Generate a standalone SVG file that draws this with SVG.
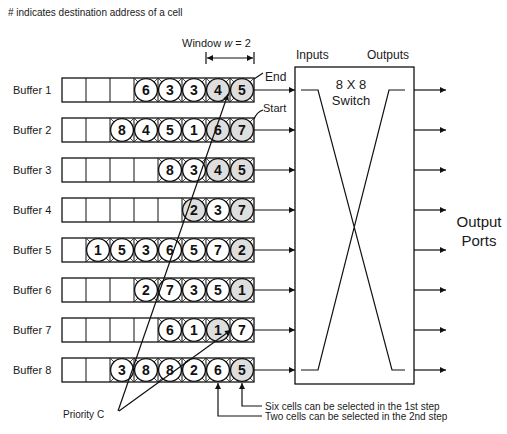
<svg xmlns="http://www.w3.org/2000/svg" xmlns:xlink="http://www.w3.org/1999/xlink" width="507" height="434" viewBox="0 0 507 434">
<style>
text{font-family:"Liberation Sans",Arial,sans-serif;fill:#1a1a1a}
.lbl{font-size:11px}
.dg{font-size:14px;font-weight:bold;text-anchor:middle;fill:#111}
.box{fill:none;stroke:#111;stroke-width:1.3}
.div{stroke:#111;stroke-width:1}
.diag{stroke:#222;stroke-width:0.8;fill:none}
.cw{fill:#fff;stroke:#111;stroke-width:1.3}
.cg{fill:#dedede;stroke:#111;stroke-width:1.3}
.ln{stroke:#111;stroke-width:1.2;fill:none}
</style>
<defs>
<marker id="ah" viewBox="0 0 10 10" refX="10" refY="5" markerWidth="8" markerHeight="6" orient="auto-start-reverse" markerUnits="userSpaceOnUse"><path d="M0 0L10 5L0 10z" fill="#111"/></marker>
<g id="cw"><path class="diag" d="M0 0L24 24M24 0L0 24"/><circle class="cw" cx="12" cy="12" r="11.4"/></g>
<g id="cg"><path class="diag" d="M0 0L24 24M24 0L0 24"/><circle class="cg" cx="12" cy="12" r="11.4"/></g>
<g id="buf"><rect class="box" x="62" y="0" width="192" height="24"/><path class="div" d="M86 0V24M110 0V24M134 0V24M158 0V24M182 0V24M206 0V24M230 0V24"/></g>
</defs>

<text x="8" y="16" style="font-size:10px"># indicates destination address of a cell</text>

<g id="window">
<text x="182" y="47" class="lbl">Window <tspan font-style="italic">w</tspan> = 2</text>
<path class="ln" d="M206 52V64M254 52V64"/>
<path class="ln" d="M207 58H253" marker-start="url(#ah)" marker-end="url(#ah)"/>
</g>

<g id="buffer1">
<text x="13" y="94" class="lbl">Buffer 1</text>
<use xlink:href="#buf" y="78"/>
<use xlink:href="#cw" x="134" y="78"/><use xlink:href="#cw" x="158" y="78"/><use xlink:href="#cw" x="182" y="78"/><use xlink:href="#cg" x="206" y="78"/><use xlink:href="#cg" x="230" y="78"/>
<text class="dg" x="146" y="95">6</text><text class="dg" x="170" y="95">3</text><text class="dg" x="194" y="95">3</text><text class="dg" x="218" y="95">4</text><text class="dg" x="242" y="95">5</text>
</g>

<g id="buffer2">
<text x="13" y="134" class="lbl">Buffer 2</text>
<use xlink:href="#buf" y="118"/>
<use xlink:href="#cw" x="110" y="118"/><use xlink:href="#cw" x="134" y="118"/><use xlink:href="#cw" x="158" y="118"/><use xlink:href="#cw" x="182" y="118"/><use xlink:href="#cg" x="206" y="118"/><use xlink:href="#cg" x="230" y="118"/>
<text class="dg" x="122" y="135">8</text><text class="dg" x="146" y="135">4</text><text class="dg" x="170" y="135">5</text><text class="dg" x="194" y="135">1</text><text class="dg" x="218" y="135">6</text><text class="dg" x="242" y="135">7</text>
</g>

<g id="buffer3">
<text x="13" y="174" class="lbl">Buffer 3</text>
<use xlink:href="#buf" y="158"/>
<use xlink:href="#cw" x="158" y="158"/><use xlink:href="#cw" x="182" y="158"/><use xlink:href="#cg" x="206" y="158"/><use xlink:href="#cg" x="230" y="158"/>
<text class="dg" x="170" y="175">8</text><text class="dg" x="194" y="175">3</text><text class="dg" x="218" y="175">4</text><text class="dg" x="242" y="175">5</text>
</g>

<g id="buffer4">
<text x="13" y="214" class="lbl">Buffer 4</text>
<use xlink:href="#buf" y="198"/>
<use xlink:href="#cg" x="182" y="198"/><use xlink:href="#cw" x="206" y="198"/><use xlink:href="#cg" x="230" y="198"/>
<text class="dg" x="194" y="215">2</text><text class="dg" x="218" y="215">3</text><text class="dg" x="242" y="215">7</text>
</g>

<g id="buffer5">
<text x="13" y="254" class="lbl">Buffer 5</text>
<use xlink:href="#buf" y="238"/>
<use xlink:href="#cw" x="86" y="238"/><use xlink:href="#cw" x="110" y="238"/><use xlink:href="#cw" x="134" y="238"/><use xlink:href="#cw" x="158" y="238"/><use xlink:href="#cw" x="182" y="238"/><use xlink:href="#cw" x="206" y="238"/><use xlink:href="#cg" x="230" y="238"/>
<text class="dg" x="98" y="255">1</text><text class="dg" x="122" y="255">5</text><text class="dg" x="146" y="255">3</text><text class="dg" x="170" y="255">6</text><text class="dg" x="194" y="255">5</text><text class="dg" x="218" y="255">7</text><text class="dg" x="242" y="255">2</text>
</g>

<g id="buffer6">
<text x="13" y="294" class="lbl">Buffer 6</text>
<use xlink:href="#buf" y="278"/>
<use xlink:href="#cw" x="134" y="278"/><use xlink:href="#cw" x="158" y="278"/><use xlink:href="#cw" x="182" y="278"/><use xlink:href="#cw" x="206" y="278"/><use xlink:href="#cg" x="230" y="278"/>
<text class="dg" x="146" y="295">2</text><text class="dg" x="170" y="295">7</text><text class="dg" x="194" y="295">3</text><text class="dg" x="218" y="295">5</text><text class="dg" x="242" y="295">1</text>
</g>

<g id="buffer7">
<text x="13" y="334" class="lbl">Buffer 7</text>
<use xlink:href="#buf" y="318"/>
<use xlink:href="#cw" x="158" y="318"/><use xlink:href="#cw" x="182" y="318"/><use xlink:href="#cg" x="206" y="318"/><use xlink:href="#cw" x="230" y="318"/>
<text class="dg" x="170" y="335">6</text><text class="dg" x="194" y="335">1</text><text class="dg" x="218" y="335">1</text><text class="dg" x="242" y="335">7</text>
</g>

<g id="buffer8">
<text x="13" y="374" class="lbl">Buffer 8</text>
<use xlink:href="#buf" y="358"/>
<use xlink:href="#cw" x="110" y="358"/><use xlink:href="#cw" x="134" y="358"/><use xlink:href="#cw" x="158" y="358"/><use xlink:href="#cw" x="182" y="358"/><use xlink:href="#cw" x="206" y="358"/><use xlink:href="#cg" x="230" y="358"/>
<text class="dg" x="122" y="375">3</text><text class="dg" x="146" y="375">8</text><text class="dg" x="170" y="375">8</text><text class="dg" x="194" y="375">2</text><text class="dg" x="218" y="375">6</text><text class="dg" x="242" y="375">5</text>
</g>

<g id="switch">
<rect class="box" x="295" y="67" width="119" height="317"/>
<text x="296" y="59" style="font-size:12px">Inputs</text>
<text x="367" y="59" style="font-size:12px">Outputs</text>
<text x="351" y="89" style="font-size:13px;text-anchor:middle">8 X 8</text>
<text x="351" y="105" style="font-size:13px;text-anchor:middle">Switch</text>
<path class="ln" d="M301 90H318L392 370H405M405 90H389L318 370H301"/>
</g>

<g id="output-ports">
<text x="479" y="227" style="font-size:15px;text-anchor:middle">Output</text>
<text x="479" y="246" style="font-size:15px;text-anchor:middle">Ports</text>
</g>

<g id="labels">
<text x="265" y="81" style="font-size:12px">End</text>
<text x="263" y="112" style="font-size:11px">Start</text>
<text x="63" y="418" style="font-size:10px">Priority C</text>
<text x="265" y="410" style="font-size:10px">Six cells can be selected in the 1st step</text>
<text x="265" y="420" style="font-size:10px">Two cells can be selected in the 2nd step</text>
</g>

<g id="connectors">
<path class="ln" d="M254 79L263 73"/>
<path class="ln" d="M254 119Q257 112 263 110"/>
<path class="ln" d="M254 90H295" marker-end="url(#ah)"/>
<path class="ln" d="M254 130H295" marker-end="url(#ah)"/>
<path class="ln" d="M254 170H295" marker-end="url(#ah)"/>
<path class="ln" d="M254 210H295" marker-end="url(#ah)"/>
<path class="ln" d="M254 250H295" marker-end="url(#ah)"/>
<path class="ln" d="M254 290H295" marker-end="url(#ah)"/>
<path class="ln" d="M254 330H295" marker-end="url(#ah)"/>
<path class="ln" d="M254 370H295" marker-end="url(#ah)"/>
<path class="ln" d="M414 90H446" marker-end="url(#ah)"/>
<path class="ln" d="M414 130H446" marker-end="url(#ah)"/>
<path class="ln" d="M414 170H446" marker-end="url(#ah)"/>
<path class="ln" d="M414 210H446" marker-end="url(#ah)"/>
<path class="ln" d="M414 250H446" marker-end="url(#ah)"/>
<path class="ln" d="M414 290H446" marker-end="url(#ah)"/>
<path class="ln" d="M414 330H446" marker-end="url(#ah)"/>
<path class="ln" d="M414 370H446" marker-end="url(#ah)"/>
<path class="ln" d="M118 411L228 94" marker-end="url(#ah)"/>
<path class="ln" d="M119 411L231 330" marker-end="url(#ah)"/>
<path class="ln" d="M262 406H242V383" marker-end="url(#ah)"/>
<path class="ln" d="M262 416H218V383" marker-end="url(#ah)"/>
</g>
</svg>
